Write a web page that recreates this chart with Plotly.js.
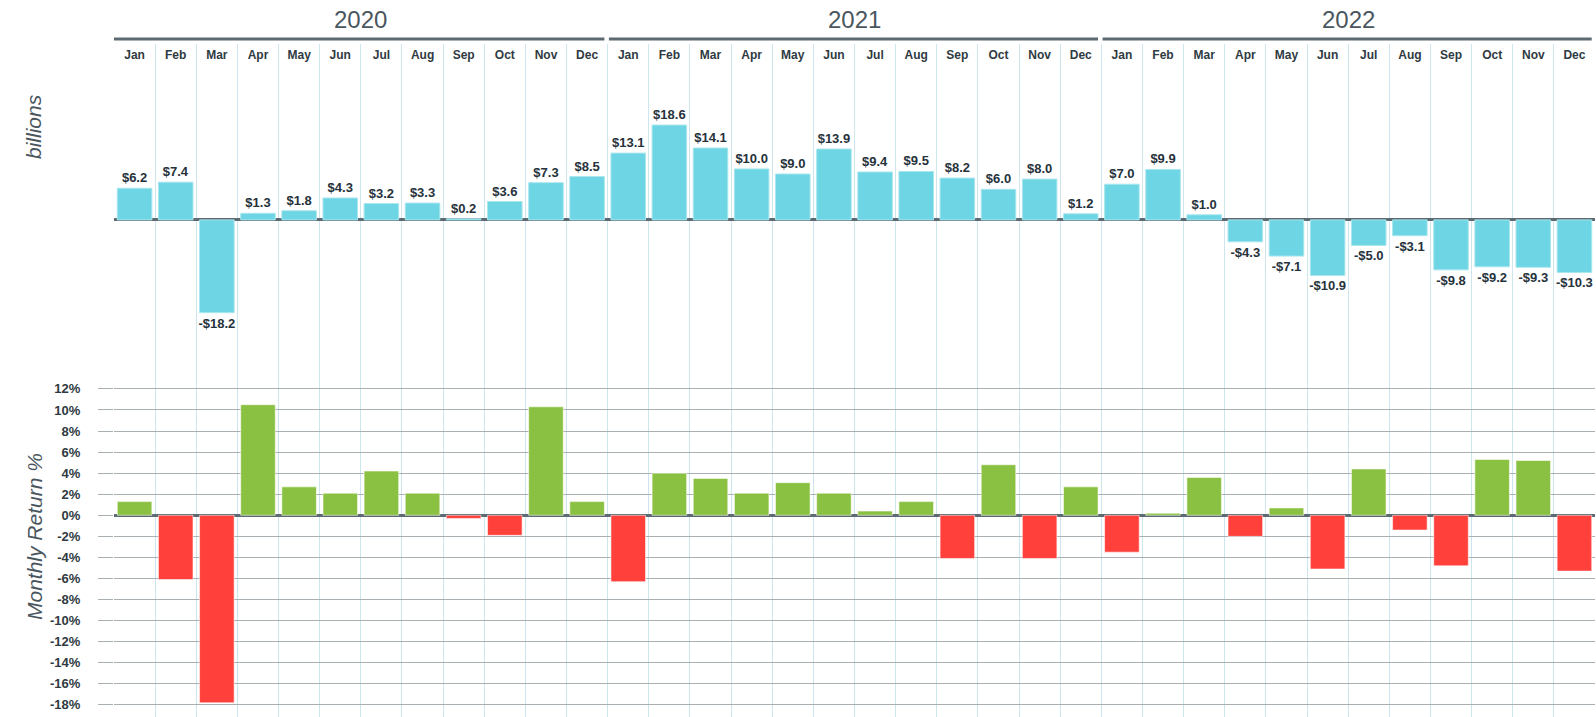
<!DOCTYPE html>
<html>
<head>
<meta charset="utf-8">
<script src="https://cdn.plot.ly/plotly-3.0.1.min.js"></script>
<style>
  html, body { margin: 0; padding: 0; background: #ffffff; }
  #chart { width: 1596px; height: 717px; }
</style>
</head>
<body>
<div id="chart"></div>
<script>
// ---- data ----
const years = ['2020', '2021', '2022'];
const months = ['Jan','Feb','Mar','Apr','May','Jun','Jul','Aug','Sep','Oct','Nov','Dec'];

// net flows, billions of dollars, per month
const flows2020 = [6.2, 7.4, -18.2, 1.3, 1.8, 4.3, 3.2, 3.3, 0.2, 3.6, 7.3, 8.5];
const flows2021 = [13.1, 18.6, 14.1, 10.0, 9.0, 13.9, 9.4, 9.5, 8.2, 6.0, 8.0, 1.2];
const flows2022 = [7.0, 9.9, 1.0, -4.3, -7.1, -10.9, -5.0, -3.1, -9.8, -9.2, -9.3, -10.3];

// monthly return, percent
const returns2020 = [1.3, -6.1, -17.8, 10.5, 2.7, 2.1, 4.2, 2.1, -0.3, -1.9, 10.3, 1.3];
const returns2021 = [-6.3, 4.0, 3.5, 2.1, 3.1, 2.1, 0.4, 1.3, -4.1, 4.8, -4.1, 2.7];
const returns2022 = [-3.5, 0.2, 3.6, -2.0, 0.7, -5.1, 4.4, -1.4, -4.8, 5.3, 5.2, -5.3];

const returnTicks = [12, 10, 8, 6, 4, 2, 0, -2, -4, -6, -8, -10, -12, -14, -16, -18];

// ---- derived ----
const flows = flows2020.concat(flows2021, flows2022);
const returns = returns2020.concat(returns2021, returns2022);
const monthLabels = years.flatMap(() => months);
const idx = monthLabels.map((_, i) => i);
const bounds = idx.slice(1).map(i => i - 0.5);

const flowText = flows.map(v => (v < 0 ? '-$' : '$') + Math.abs(v).toFixed(1));
const returnColors = returns.map(v => v >= 0 ? '#8bc142' : '#ff403b');

const narrow = '"Liberation Sans Narrow", "Liberation Sans", Arial, sans-serif';
const regular = '"Liberation Sans", Arial, sans-serif';
const H = 717;
const py = px => 1 - px / H;

const traces = [
  {
    type: 'bar', x: idx, y: flows, xaxis: 'x', yaxis: 'y',
    marker: { color: '#6dd5e3', line: { color: '#a9e6ee', width: 1 } },
    text: flowText, textposition: 'outside', constraintext: 'none', cliponaxis: false,
    textfont: { family: narrow, size: 13, color: '#26323b', weight: 'bold' },
    hoverinfo: 'skip'
  },
  {
    type: 'bar', x: idx, y: returns, xaxis: 'x2', yaxis: 'y2',
    marker: { color: returnColors, line: { color: 'rgba(255,255,255,0.55)', width: 1 } },
    hoverinfo: 'skip'
  }
];

const gridBlue = '#cde6ee';
const axisDark = '#5d6a72';
const gridGray = '#a9b0b4';

const layout = {
  width: 1596, height: 717,
  margin: { l: 114, r: 1, t: 0, b: 0, pad: 0 },
  paper_bgcolor: '#ffffff', plot_bgcolor: '#ffffff',
  showlegend: false,
  bargap: 0.16,
  xaxis: {
    domain: [0, 1], anchor: 'y', range: [-0.5, 35.5], side: 'top',
    tickmode: 'array', tickvals: idx, ticktext: monthLabels,
    ticks: '', ticklabelposition: 'inside', ticklabelstandoff: 4,
    showgrid: false, zeroline: false, showline: false,
    tickfont: { family: narrow, size: 12, color: '#2f3a42', weight: 'bold' },
    minor: { tickmode: 'array', tickvals: bounds, showgrid: true, gridcolor: gridBlue, gridwidth: 1, ticks: '' },
    fixedrange: true
  },
  yaxis: {
    domain: [py(381), py(44)], anchor: 'x', range: [-31.6, 34.5],
    showticklabels: false, showgrid: false, ticks: '',
    zeroline: true, zerolinecolor: axisDark, zerolinewidth: 3, showline: false,
    fixedrange: true
  },
  xaxis2: {
    domain: [0, 1], anchor: 'y2', range: [-0.5, 35.5],
    tickmode: 'array', tickvals: bounds, showticklabels: false, ticks: '',
    showgrid: true, gridcolor: gridBlue, gridwidth: 1, zeroline: false, showline: false,
    fixedrange: true
  },
  yaxis2: {
    domain: [0, py(381)], anchor: 'x2', range: [-19.15, 12.75],
    tickmode: 'array', tickvals: returnTicks,
    ticktext: returnTicks.map(v => (v < 0 ? '-' : '') + Math.abs(v) + '%'),
    ticks: 'outside', ticklen: 15, tickcolor: gridGray, tickwidth: 1,
    ticklabelstandoff: 15,
    tickfont: { family: narrow, size: 13, color: '#2f3a42', weight: 'bold' },
    showgrid: true, gridcolor: gridGray, gridwidth: 1,
    zeroline: true, zerolinecolor: axisDark, zerolinewidth: 3, showline: false,
    fixedrange: true
  },
  shapes: years.map((y, k) => ({
    type: 'line', xref: 'x', yref: 'paper',
    x0: k === 0 ? -0.6 : 12 * k - 0.47, x1: 12 * k + 11.42, y0: py(39), y1: py(39),
    line: { color: axisDark, width: 3 }
  })),
  annotations: years.map((y, k) => ({
    text: y, xref: 'x', yref: 'paper', x: 12 * k + 5.5, y: py(19),
    showarrow: false, xanchor: 'center', yanchor: 'middle',
    font: { family: regular, size: 24, color: '#4a565e' }
  })).concat([
    {
      text: '<i>billions</i>', xref: 'paper', yref: 'paper',
      x: (34 - 114) / 1481, y: py(127), textangle: -90,
      showarrow: false, xanchor: 'center', yanchor: 'middle',
      font: { family: regular, size: 21, color: '#4a565e' }
    },
    {
      text: '<i>Monthly Return %</i>', xref: 'paper', yref: 'paper',
      x: (34 - 114) / 1481, y: py(537), textangle: -90,
      showarrow: false, xanchor: 'center', yanchor: 'middle',
      font: { family: regular, size: 21, color: '#4a565e' }
    }
  ])
};

Plotly.newPlot('chart', traces, layout, { displayModeBar: false, staticPlot: true });
</script>
</body>
</html>
